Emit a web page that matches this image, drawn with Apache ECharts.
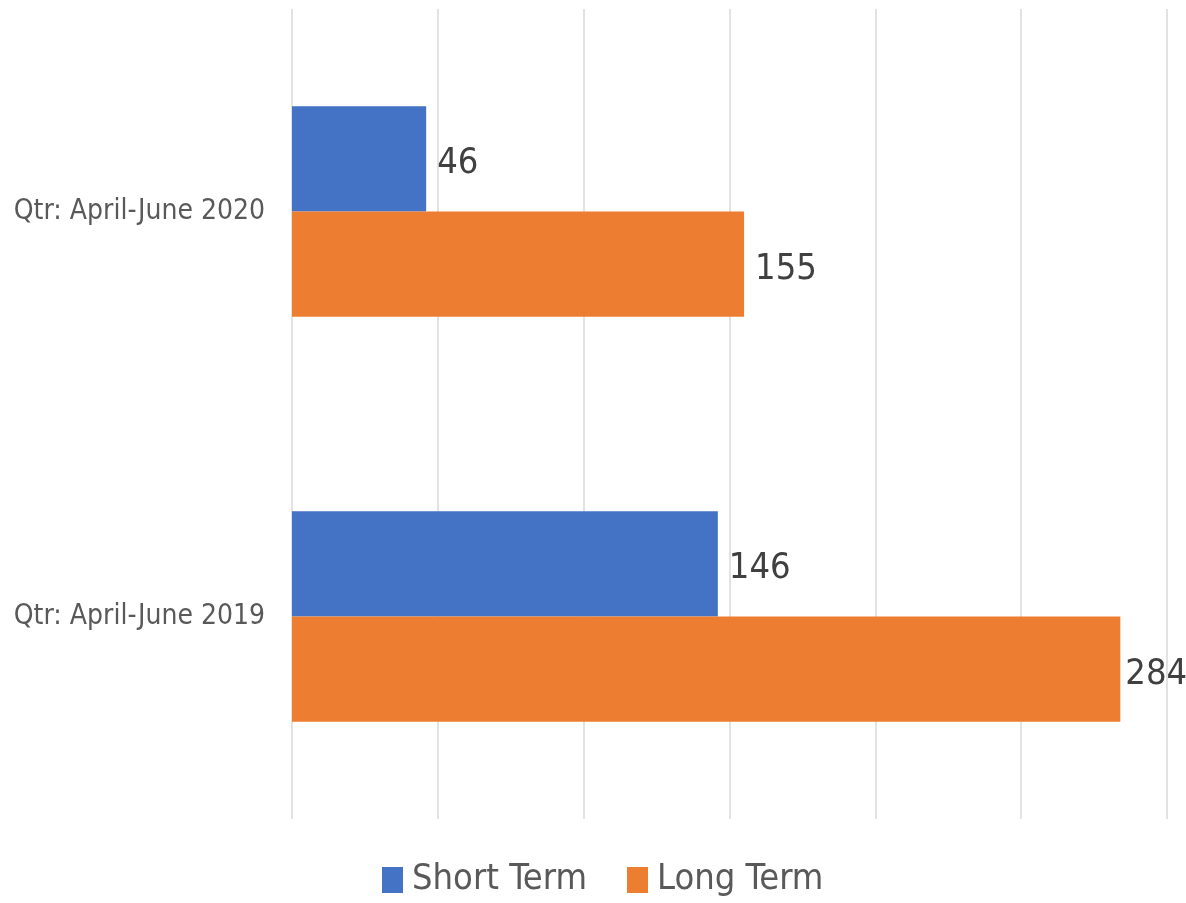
<!DOCTYPE html>
<html>
<head>
<meta charset="utf-8">
<script src="https://cdn.jsdelivr.net/npm/echarts@6/dist/echarts.min.js"></script>
<style>
  html, body { margin: 0; padding: 0; background: #fff; }
  #chart { width: 1186px; height: 903px; }
</style>
</head>
<body>
<div id="chart"></div>
<script>
const categories = ['Qtr: April-June 2019', 'Qtr: April-June 2020']
const shortTerm = [146, 46]
const longTerm = [284, 155]
const seriesNames = ['Short Term', 'Long Term']

const fontFamily = '"DejaVu Sans Condensed", "Liberation Sans Narrow", sans-serif'

var myChart = echarts.init(document.getElementById('chart'))

// the biggest bar's label sits closer to the bar so it fits in the canvas
var longTermData = longTerm.map(v => {
  return v > 250 ? { value: v, label: { distance: 5 } } : v
})

const option = {
  animation: false,
  textStyle: { fontFamily: fontFamily },
  grid: { left: 292, right: 19, top: 9, bottom: 84, outerBoundsMode: 'none', containLabel: false },
  legend: {
    bottom: 0,
    left: 377,
    itemWidth: 21,
    itemHeight: 26,
    itemGap: 40,
    icon: 'rect',
    textStyle: { fontSize: 36, color: '#595959', fontFamily: fontFamily, padding: [0, 0, 0, 4] },
    data: seriesNames
  },
  xAxis: {
    type: 'value',
    min: 0,
    max: 300,
    interval: 50,
    axisLabel: { show: false },
    axisLine: { show: false },
    axisTick: { show: false },
    splitLine: { lineStyle: { color: '#d9d9d9', width: 1.5 } }
  },
  yAxis: {
    type: 'category',
    data: categories,
    axisLine: { show: false },
    axisTick: { show: false },
    axisLabel: { fontSize: 28, color: '#595959', margin: 27, fontFamily: fontFamily }
  },
  series: [
    {
      name: seriesNames[0],
      type: 'bar',
      data: shortTerm,
      barGap: '0%',
      barCategoryGap: '48%',
      itemStyle: { color: '#4472c4' },
      label: { show: true, position: 'right', distance: 11, offset: [0, 5], fontSize: 36, color: '#404040', fontFamily: fontFamily }
    },
    {
      name: seriesNames[1],
      type: 'bar',
      data: longTermData,
      barGap: '0%',
      barCategoryGap: '48%',
      itemStyle: { color: '#ed7d31' },
      label: { show: true, position: 'right', distance: 11, offset: [0, 5], fontSize: 36, color: '#404040', fontFamily: fontFamily }
    }
  ]
}
myChart.setOption(option)
</script>
</body>
</html>
